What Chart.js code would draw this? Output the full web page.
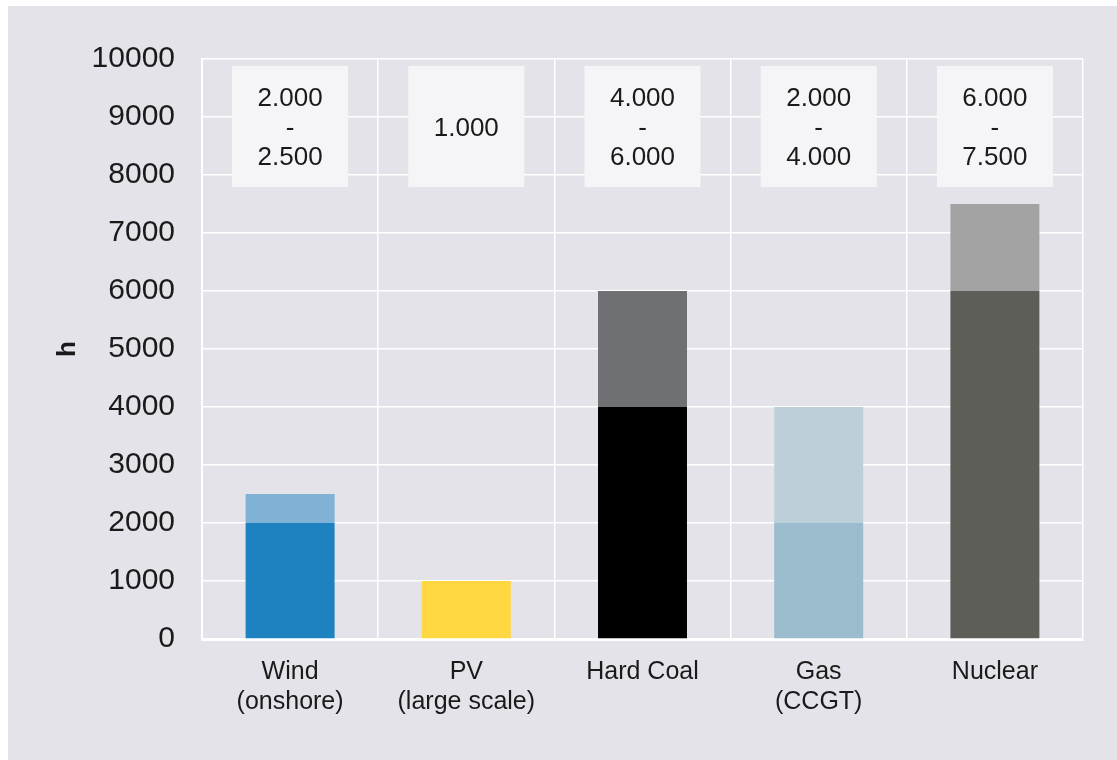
<!DOCTYPE html>
<html>
<head>
<meta charset="utf-8">
<script src="https://cdn.jsdelivr.net/npm/chart.js@4.4.1/dist/chart.umd.min.js"></script>
<style>
  html, body { margin: 0; padding: 0; background: #ffffff; }
  #wrap { position: absolute; left: 8px; top: 6px; width: 1109px; height: 754px; background: #e3e3e9; }
  canvas { display: block; }
</style>
</head>
<body>
<div id="wrap"><canvas id="chart" width="1109" height="754"></canvas></div>
<script>
// Full-load hours per technology (h/year)
const categories = [['Wind', '(onshore)'], ['PV', '(large scale)'], ['Hard Coal'], ['Gas', '(CCGT)'], ['Nuclear']];
const minHours = [2000, 1000, 4000, 2000, 6000];
const maxHours = [2500, 1000, 6000, 4000, 7500];
const yTicks = [0, 1000, 2000, 3000, 4000, 5000, 6000, 7000, 8000, 9000, 10000];

const baseColors = ['#1f82c0', '#ffd741', '#000000', '#9bbccc', '#5d5e58'];
const rangeColors = ['#80b2d6', '#ffd741', '#6f7073', '#bdd0da', '#a3a3a4'];

const rangeHours = maxHours.map((v, i) => v - minHours[i]);

const fmt = v => v.toLocaleString('de-DE');
const boxLabels = minHours.map((v, i) => v === maxHours[i] ? [fmt(v)] : [fmt(v), '-', fmt(maxHours[i])]);

// Range boxes above each column
const rangeBoxes = {
  id: 'rangeBoxes',
  afterDatasetsDraw(chart) {
    const { ctx, chartArea, scales } = chart;
    ctx.save();
    boxLabels.forEach((lines, i) => {
      const cx = scales.x.getPixelForValue(i);
      const w = 116, h = 121;
      const top = chartArea.top + 7;
      ctx.fillStyle = '#f5f5f7';
      ctx.fillRect(cx - w / 2, top, w, h);
      ctx.fillStyle = '#1a1a1a';
      ctx.font = '26px "Liberation Sans", Arial, sans-serif';
      ctx.textAlign = 'center';
      ctx.textBaseline = 'middle';
      const lh = 29.5;
      const cy = top + h / 2 + 2;
      lines.forEach((t, k) => {
        ctx.fillText(t, cx, cy + (k - (lines.length - 1) / 2) * lh);
      });
    });
    ctx.restore();
  }
};

new Chart(document.getElementById('chart'), {
  type: 'bar',
  data: {
    labels: categories,
    datasets: [
      { label: 'min', data: minHours, backgroundColor: baseColors, borderWidth: 0 },
      { label: 'range', data: rangeHours, backgroundColor: rangeColors, borderWidth: 0 }
    ]
  },
  options: {
    responsive: false,
    animation: false,
    layout: { padding: { top: 53, right: 34, bottom: 0, left: 0 } },
    datasets: { bar: { categoryPercentage: 1, barPercentage: 0.505 } },
    plugins: { legend: { display: false }, tooltip: { enabled: false } },
    scales: {
      x: {
        stacked: true,
        grid: { color: '#ffffff', lineWidth: 1.5, drawTicks: false, offset: true },
        border: { display: true, color: '#ffffff', width: 3 },
        ticks: {
          color: '#1a1a1a',
          font: { family: '"Liberation Sans", Arial, sans-serif', size: 25, lineHeight: 1.2 },
          padding: 18,
          maxRotation: 0
        },
        afterFit(scale) { scale.height = 121; }
      },
      y: {
        stacked: true,
        min: 0,
        max: 10000,
        afterBuildTicks(scale) { scale.ticks = yTicks.map(v => ({ value: v })); },
        grid: { color: '#ffffff', lineWidth: 1.5, drawTicks: false },
        border: { display: true, color: '#ffffff', width: 2 },
        ticks: {
          color: '#1a1a1a',
          font: { family: '"Liberation Sans", Arial, sans-serif', size: 30 },
          padding: 27,
          callback: v => String(v)
        },
        title: {
          display: true,
          text: 'h',
          color: '#1a1a1a',
          font: { family: '"Liberation Sans", Arial, sans-serif', size: 26, weight: 'bold' },
          padding: { top: 44, bottom: 0 }
        },
        afterFit(scale) { scale.width = 194; }
      }
    }
  },
  plugins: [rangeBoxes]
});
</script>
</body>
</html>
